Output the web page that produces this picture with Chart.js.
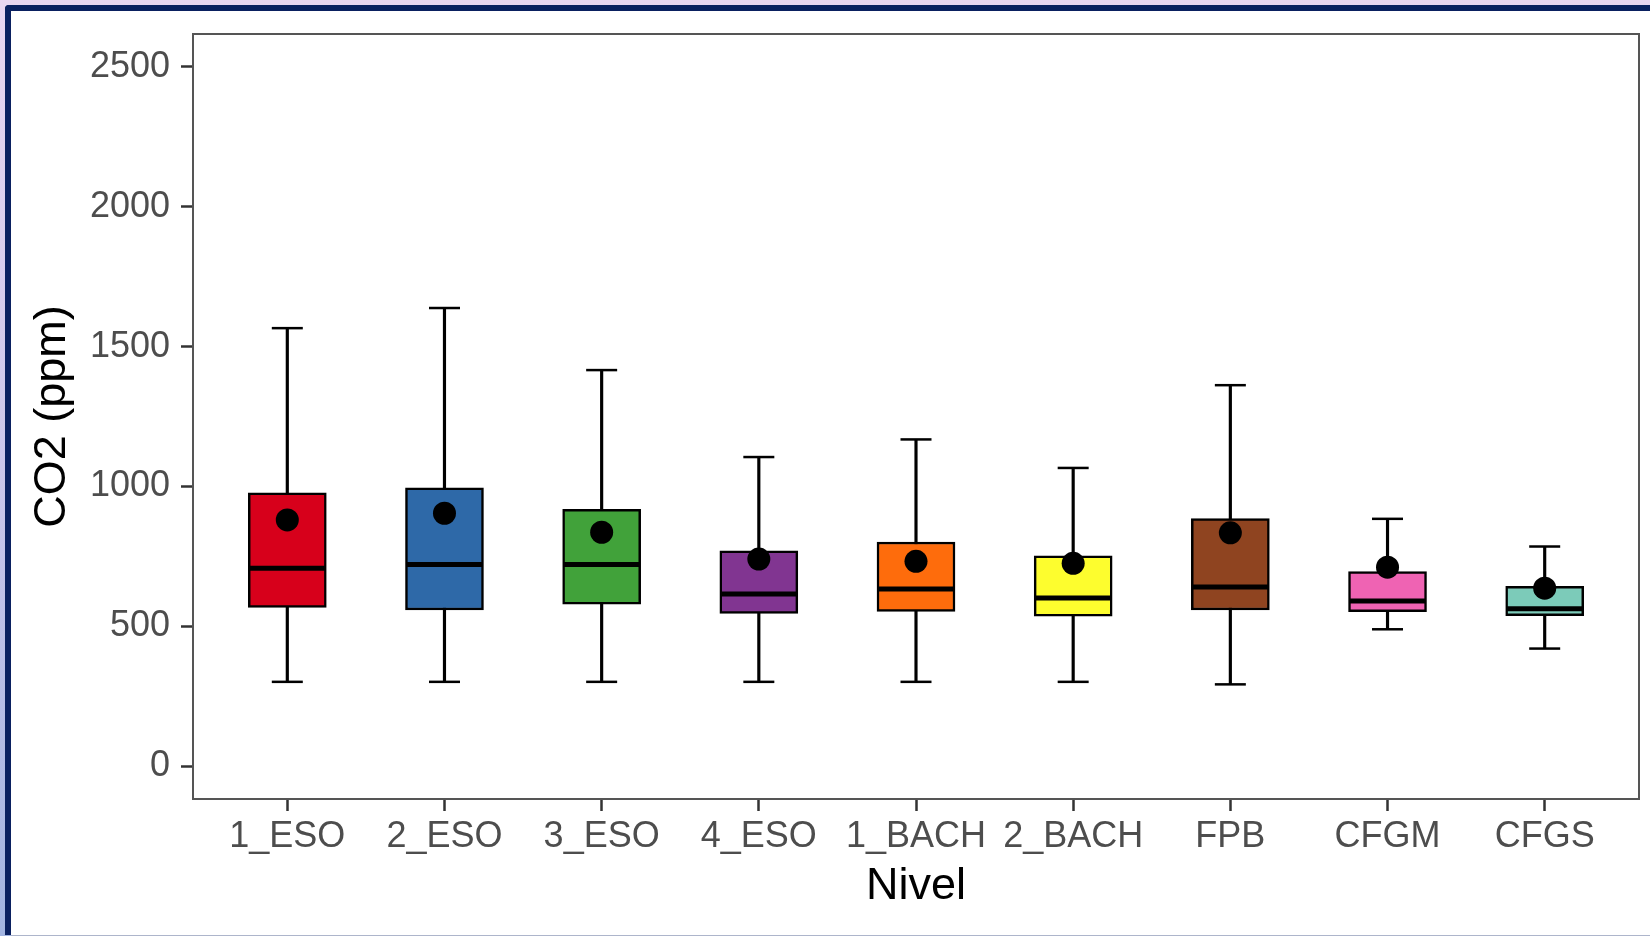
<!DOCTYPE html>
<html lang="es">
<head>
<meta charset="utf-8">
<title>CO2 por nivel</title>
<script src="https://cdn.jsdelivr.net/npm/chart.js@4.4.1/dist/chart.umd.min.js"></script>
<style>
  html, body { margin: 0; padding: 0; }
  body {
    width: 1650px; height: 936px; overflow: hidden; position: relative;
    background: linear-gradient(to bottom, #e9d6f1 0%, #cbc6eb 50%, #a2b4e1 100%);
  }
  #marco {
    position: absolute; left: 5px; top: 5px; width: 1639px; height: 924px;
    border-left: 6px solid #0a2060; border-top: 6px solid #0a2060;
    border-top-left-radius: 4px; background: #fff;
  }
  #linea { position: absolute; left: 11px; top: 935px; width: 1639px; height: 1px; background: #adb5cb; }
  canvas { display: block; }
</style>
</head>
<body>
<div id="marco"><canvas id="grafico" width="1639" height="924"></canvas></div>
<div id="linea"></div>
<script>
// Datos (CO2 en ppm)
var categorias = ['1_ESO', '2_ESO', '3_ESO', '4_ESO', '1_BACH', '2_BACH', 'FPB', 'CFGM', 'CFGS'];
var bigoteInf = [301, 301, 301, 301, 301, 301, 292, 489, 420];
var q1 = [567, 558, 579, 546, 553, 536, 558, 552, 538];
var mediana = [707, 721, 721, 615, 633, 601, 640, 590, 562];
var q3 = [977, 995, 918, 770, 801, 752, 885, 695, 643];
var bigoteSup = [1566, 1638, 1416, 1105, 1168, 1066, 1362, 884, 785];
var medias = [880, 904, 836, 740, 732, 725, 834, 711, 636];
var colores = ['#d7001b', '#2e69a8', '#41a23a', '#813591', '#fe6c0c', '#fdfd2e', '#8f4420', '#ef63b3', '#7ccbb9'];
var ticksY = [0, 500, 1000, 1500, 2000, 2500];

Chart.defaults.font.family = "'Liberation Sans', Arial, sans-serif";

function puntos(valores) {
    return valores.map(function (v, i) { return { x: i, y: v }; });
}

function rango(bajo, alto) {
    return bajo.map(function (v, i) { return { x: i, y: [v, alto[i]] }; });
}

// borde del panel (estilo theme_bw)
var bordePanel = {
    id: 'bordePanel',
    afterDatasetsDraw: function (chart) {
        var a = chart.chartArea;
        var ctx = chart.ctx;
        ctx.save();
        ctx.strokeStyle = '#555555';
        ctx.lineWidth = 2;
        ctx.strokeRect(a.left, a.top, a.right - a.left, a.bottom - a.top);
        ctx.restore();
    }
};

var ctx = document.getElementById('grafico').getContext('2d');
var chart = new Chart(ctx, {
    type: 'bar',
    data: {
        datasets: [{
            type: 'bar',
            label: 'bigotes',
            data: rango(bigoteInf, bigoteSup),
            backgroundColor: '#000000',
            barThickness: 2.5,
            grouped: false,
            order: 5
        }, {
            type: 'scatter',
            label: 'extremos',
            data: puntos(bigoteInf).concat(puntos(bigoteSup)),
            pointStyle: 'line',
            pointRadius: 15.5,
            pointBorderColor: '#000000',
            pointBorderWidth: 2.5,
            order: 4
        }, {
            type: 'bar',
            label: 'caja',
            data: rango(q1, q3),
            backgroundColor: colores,
            borderColor: '#000000',
            borderWidth: 2.5,
            borderSkipped: false,
            barThickness: 78,
            grouped: false,
            order: 3
        }, {
            type: 'scatter',
            label: 'mediana',
            data: puntos(mediana),
            pointStyle: 'line',
            pointRadius: 38,
            pointBorderColor: '#000000',
            pointBorderWidth: 5,
            order: 2
        }, {
            type: 'scatter',
            label: 'media',
            data: puntos(medias),
            pointStyle: 'circle',
            pointRadius: 11.5,
            pointBackgroundColor: '#000000',
            pointBorderWidth: 0,
            order: 1
        }]
    },
    options: {
        responsive: false,
        animation: false,
        events: [],
        layout: { autoPadding: false, padding: { top: 23, right: 11, left: 0, bottom: 0 } },
        plugins: { legend: { display: false }, tooltip: { enabled: false } },
        scales: {
            x: {
                type: 'linear',
                min: -0.6,
                max: 8.6,
                offset: false,
                afterBuildTicks: function (scale) {
                    scale.ticks = categorias.map(function (c, i) { return { value: i }; });
                },
                afterFit: function (scale) {
                    scale.height = 136;
                    scale.paddingLeft = 0;
                    scale.paddingRight = 0;
                },
                grid: { offset: false, drawOnChartArea: false, drawTicks: true, tickLength: 12, tickWidth: 2.5, tickColor: '#333333' },
                border: { display: false },
                ticks: {
                    autoSkip: false,
                    maxRotation: 0,
                    minRotation: 0,
                    padding: 4,
                    color: '#4d4d4d',
                    font: { size: 36 },
                    callback: function (value) { return categorias[value]; }
                },
                title: {
                    display: true,
                    text: 'Nivel',
                    color: '#000000',
                    font: { size: 45 },
                    padding: { top: 0, bottom: 21 }
                }
            },
            y: {
                type: 'linear',
                min: -118,
                max: 2618,
                beginAtZero: false,
                afterBuildTicks: function (scale) {
                    scale.ticks = ticksY.map(function (v) { return { value: v }; });
                },
                afterFit: function (scale) {
                    scale.width = 182;
                    scale.paddingTop = 0;
                    scale.paddingBottom = 0;
                },
                grid: { drawOnChartArea: false, drawTicks: true, tickLength: 12, tickWidth: 2.5, tickColor: '#333333' },
                border: { display: false },
                ticks: {
                    padding: 11,
                    color: '#4d4d4d',
                    font: { size: 36 },
                    callback: function (value) { return String(value); }
                },
                title: {
                    display: true,
                    text: 'CO2 (ppm)',
                    color: '#000000',
                    font: { size: 45 },
                    padding: { top: 15, bottom: 0 }
                }
            }
        }
    },
    plugins: [bordePanel]
});
</script>
</body>
</html>
